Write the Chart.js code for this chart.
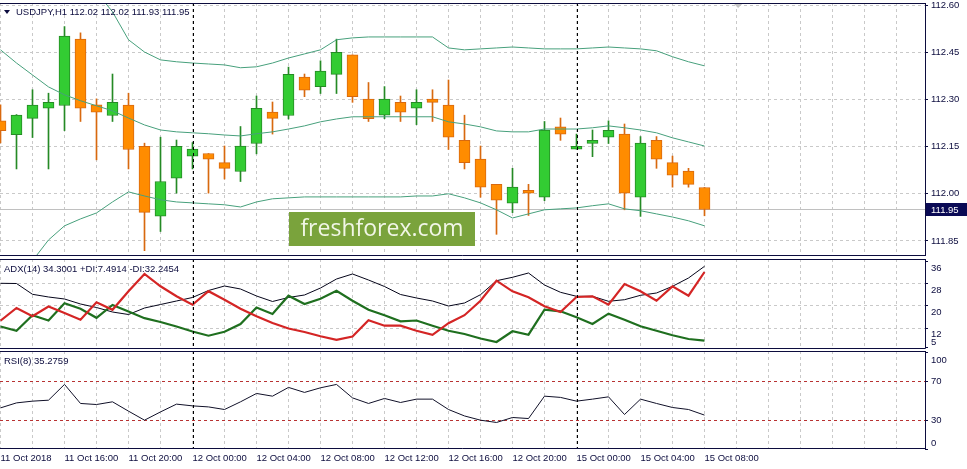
<!DOCTYPE html>
<html>
<head>
<meta charset="utf-8">
<script src="https://cdn.jsdelivr.net/npm/chart.js@4.4.1/dist/chart.umd.min.js"></script>
<style>
  html, body { margin: 0; padding: 0; background: #fff; }
  #wrap { position: relative; width: 967px; height: 469px; overflow: hidden; }
  #wrap canvas { position: absolute; left: 0; }
</style>
</head>
<body>
<div id="wrap">
  <canvas id="chart-main" width="967" height="258" style="top:0px"></canvas>
  <canvas id="chart-adx" width="967" height="92" style="top:258px"></canvas>
  <canvas id="chart-rsi" width="967" height="119" style="top:350px"></canvas>
</div>
<script>
// ---------- data (USDJPY H1, one entry per bar) ----------
const symbol = 'USDJPY,H1';
const timeLabels = ['11 Oct 2018', '11 Oct 16:00', '11 Oct 20:00', '12 Oct 00:00', '12 Oct 04:00', '12 Oct 08:00',
                    '12 Oct 12:00', '12 Oct 16:00', '12 Oct 20:00', '15 Oct 00:00', '15 Oct 04:00', '15 Oct 08:00'];
const labelEvery = 4;          // one time label every 4 bars
const separators = [12, 36];   // day breaks (bar index)

const opens  = [112.232,112.188,112.240,112.272,112.281,112.492,112.283,112.249,112.282,112.151,111.929,112.050,112.120,112.128,112.099,
                112.071,112.160,112.260,112.249,112.371,112.341,112.380,112.442,112.301,112.250,112.291,112.272,112.301,112.282,112.170,
                112.110,112.030,111.970,112.011,111.989,112.213,112.142,112.160,112.180,112.190,111.989,112.170,112.099,112.072,112.020];
const highs  = [112.283,112.252,112.331,112.320,112.532,112.512,112.302,112.381,112.320,112.161,112.180,112.171,112.163,112.128,112.152,
                112.214,112.311,112.292,112.403,112.381,112.423,112.492,112.442,112.354,112.341,112.311,112.331,112.331,112.362,112.250,
                112.152,112.030,112.081,112.030,112.230,112.241,112.190,112.203,112.232,112.222,112.182,112.182,112.120,112.081,112.020];
const lows   = [112.162,112.079,112.179,112.079,112.201,112.230,112.108,112.230,112.079,111.819,111.880,112.002,112.079,112.002,112.047,
                112.039,112.127,112.190,112.238,112.309,112.319,112.319,112.291,112.230,112.239,112.230,112.220,112.230,112.141,112.079,
                111.989,111.871,111.940,111.931,111.978,112.170,112.142,112.118,112.160,111.949,111.928,112.081,112.021,112.021,111.930];
const closes = [112.201,112.250,112.282,112.291,112.502,112.272,112.260,112.291,112.141,111.941,112.039,112.151,112.142,112.110,112.081,
                112.152,112.272,112.240,112.380,112.330,112.390,112.450,112.309,112.239,112.301,112.260,112.291,112.291,112.180,112.099,
                112.021,111.980,112.021,112.002,112.203,112.190,112.151,112.170,112.202,112.002,112.161,112.110,112.059,112.030,111.950];

// bollinger bands
const bbUpper  = [112.808,112.776,112.744,112.712,112.687,112.665,112.642,112.579,112.490,112.451,112.426,112.420,112.416,112.413,112.410,
                  112.401,112.404,112.416,112.432,112.445,112.458,112.490,112.496,112.499,112.499,112.499,112.499,112.499,112.464,112.458,
                  112.461,112.464,112.467,112.464,112.461,112.461,112.461,112.464,112.467,112.464,112.461,112.455,112.436,112.420,112.407];
const bbMiddle = [112.458,112.416,112.378,112.340,112.315,112.296,112.280,112.264,112.241,112.219,112.203,112.197,112.194,112.191,112.187,
                  112.184,112.191,112.197,112.206,112.216,112.229,112.238,112.245,112.245,112.245,112.245,112.245,112.245,112.229,112.222,
                  112.213,112.200,112.197,112.197,112.206,112.206,112.206,112.210,112.216,112.210,112.203,112.194,112.178,112.165,112.152];
const bbLower  = [111.669,111.729,111.787,111.853,111.898,111.920,111.939,111.974,112.006,111.993,111.981,111.974,111.971,111.968,111.965,
                  111.958,111.974,111.984,111.987,111.990,111.990,111.990,111.990,111.990,111.990,111.990,111.993,111.993,112.000,111.987,
                  111.971,111.949,111.923,111.936,111.949,111.952,111.955,111.962,111.968,111.952,111.946,111.936,111.926,111.914,111.898];

// ADX(14)
const adxMain = [28.17,28.10,24.21,23.24,22.52,20.72,19.45,17.83,16.93,19.27,20.53,21.80,23.06,25.58,27.20,
                 26.12,23.60,21.62,23.06,23.96,26.48,29.72,31.53,29.36,27.02,24.14,22.88,21.80,19.99,21.08,
                 24.07,29.11,30.34,31.89,27.56,24.93,23.49,23.49,21.69,22.26,23.85,24.68,27.09,30.08,34.3001];
const plusDI  = [12.61,11.06,16.64,14.77,21.00,19.02,15.74,20.35,18.01,15.60,14.23,12.61,10.81,9.29,10.70,
                 13.51,19.45,17.11,23.71,20.72,22.63,25.51,21.90,18.66,16.64,14.48,14.77,12.90,11.09,9.90,
                 8.28,7.02,10.88,9.65,18.66,18.08,15.92,13.51,17.22,15.06,12.68,11.09,9.44,8.10,7.4914];
const minusDI = [14.70,19.27,16.28,19.81,17.47,15.02,21.33,18.63,25.29,31.53,27.09,23.49,20.43,25.33,22.26,
                 19.02,16.28,13.87,11.89,10.63,9.08,7.81,9.00,14.88,12.90,12.90,11.09,9.62,13.80,16.68,
                 21.87,29.11,25.29,23.13,19.89,17.83,23.24,23.49,20.46,27.92,25.29,21.90,27.09,23.71,32.2454];

// RSI(8)
const rsi8 = [42.8,48.0,49.8,50.8,67.2,47.4,46.3,49.1,39.4,30.0,38.6,46.7,44.9,43.8,41.1,
              49.1,57.8,55.0,64.1,58.9,63.7,67.2,53.2,47.4,52.6,48.4,51.9,51.9,41.1,34.4,
              30.0,27.6,32.8,31.7,55.0,53.7,49.8,51.9,54.3,35.9,51.9,47.4,43.2,41.1,35.2759];

const priceTicks = [111.85, 112.00, 112.15, 112.30, 112.45, 112.60];
const adxTicks   = [5, 12, 20, 28, 36];
const adxGrid    = [12, 20, 28];
const rsiTicks   = [0, 30, 70, 100];
const rsiLevels  = [30, 70];

// ---------- look ----------
const NAVY = '#0c0c3e';
const GRID = '#c9c9c9';
const FONT = '"Liberation Sans", Arial, sans-serif';
const BULL = '#33cc33', BULL_EDGE = '#258a25';
const BEAR = '#ff8c00', BEAR_EDGE = '#d8690f';
const BAND = '#47a07c';

// x range: one bar = 16px, plot is 925px wide
const X_MIN = -1 / 32;
const X_MAX = X_MIN + 925 / 16;

const xy = arr => arr.map((v, i) => ({ x: i, y: v }));
const bull = closes.map((c, i) => c >= opens[i]);
const last = closes.length - 1;

// no label padding around the value axes, the plot keeps its exact box
const noPad = s => { s.paddingTop = 0; s.paddingBottom = 0; s.paddingLeft = 0; s.paddingRight = 0; };

/**
 * @description shared x axis, grid every 2 bars, labels only on the bottom panel
 */
function xAxis(showLabels) {
    return {
        type: 'linear', min: X_MIN, max: X_MAX, offset: false,
        grid: { color: GRID, offset: false, drawTicks: false },
        border: { display: false, dash: [3, 3] },
        afterBuildTicks: s => {
            const t = [];
            for (let v = 0; v <= X_MAX; v += 2) t.push({ value: v });
            s.ticks = t;
        },
        ticks: {
            display: showLabels, autoSkip: false, maxRotation: 0, minRotation: 0,
            align: 'start', padding: 4, color: NAVY, font: { family: FONT, size: 9.5 },
            callback: v => (v % labelEvery === 0 && v / labelEvery < timeLabels.length) ? timeLabels[v / labelEvery] : ''
        },
        afterFit: s => { s.height = showLabels ? 20 : 0; noPad(s); }
    };
}

/**
 * @description right hand value axis for the indicator windows (labels drawn by axisText)
 */
function subAxis(min, max, ticks, gridColor) {
    return {
        position: 'right', min: min, max: max,
        afterBuildTicks: s => { s.ticks = ticks.map(v => ({ value: v })); },
        grid: { color: gridColor, tickColor: NAVY, tickLength: 3 },
        border: { display: false, dash: [3, 3] },
        ticks: { display: false },
        afterFit: s => { s.width = 42; noPad(s); }
    };
}

// panel frame: top, bottom and right edge
const frame = {
    id: 'frame',
    afterDraw(chart) {
        const { ctx, chartArea: a } = chart;
        ctx.save();
        ctx.strokeStyle = NAVY;
        ctx.lineWidth = 1;
        ctx.beginPath();
        ctx.moveTo(0, Math.round(a.top) + 0.5); ctx.lineTo(a.right + 0.5, Math.round(a.top) + 0.5);
        ctx.moveTo(0, Math.round(a.bottom) - 0.5); ctx.lineTo(a.right + 0.5, Math.round(a.bottom) - 0.5);
        ctx.moveTo(a.right + 0.5, a.top); ctx.lineTo(a.right + 0.5, a.bottom);
        ctx.stroke();
        ctx.restore();
    }
};

// day separators (dashed black)
const daySeparators = {
    id: 'daySeparators',
    afterDatasetsDraw(chart) {
        const { ctx, chartArea: a, scales: { x } } = chart;
        ctx.save();
        ctx.strokeStyle = '#000';
        ctx.lineWidth = 1;
        ctx.setLineDash([3, 3]);
        separators.forEach(s => {
            const px = Math.round(x.getPixelForValue(s)) + 0.5;
            ctx.beginPath();
            ctx.moveTo(px, a.top);
            ctx.lineTo(px, a.bottom);
            ctx.stroke();
        });
        ctx.restore();
    }
};

// value labels of the indicator windows, kept inside the panel like the terminal does
function axisText(offset) {
    return {
        id: 'axisText',
        afterDraw(chart) {
            const { ctx, chartArea: a, scales: { y } } = chart;
            ctx.save();
            ctx.font = '9.5px ' + FONT;
            ctx.fillStyle = NAVY;
            ctx.textAlign = 'left';
            ctx.textBaseline = 'middle';
            y.ticks.forEach(t => {
                let py = y.getPixelForValue(t.value) + offset;
                py = Math.min(Math.max(py, a.top + 9), a.bottom - 6);
                ctx.fillText(String(t.value), a.right + 6, py);
            });
            ctx.restore();
        }
    };
}

// window caption, top-left
function caption(text) {
    return {
        id: 'caption',
        afterDraw(chart) {
            const ctx = chart.ctx;
            ctx.save();
            ctx.font = '9.5px ' + FONT;
            ctx.fillStyle = NAVY;
            ctx.textBaseline = 'middle';
            ctx.fillText(text, 4, chart.chartArea.top + 10);
            ctx.restore();
        }
    };
}

// main window extras: bid line, price tag, title, watermark, shift marker
const mainDecor = {
    id: 'mainDecor',
    beforeDatasetsDraw(chart) {
        const { ctx, chartArea: a, scales: { y } } = chart;
        const py = Math.round(y.getPixelForValue(closes[last])) + 0.5;
        ctx.save();
        ctx.strokeStyle = '#c0c0c0';
        ctx.lineWidth = 1;
        ctx.beginPath();
        ctx.moveTo(a.left, py);
        ctx.lineTo(a.right, py);
        ctx.stroke();
        ctx.restore();
    },
    afterDatasetsDraw(chart) {
        const ctx = chart.ctx;
        ctx.save();
        ctx.fillStyle = '#7aa33c';
        ctx.fillRect(289, 212, 186, 34);
        ctx.fillStyle = '#f1f6e6';
        ctx.font = '23px "Open Sans", ' + FONT;
        ctx.textAlign = 'center';
        ctx.textBaseline = 'middle';
        ctx.fillText('freshforex.com', 382, 229);
        ctx.restore();
    },
    afterDraw(chart) {
        const { ctx, chartArea: a, scales: { x, y } } = chart;
        ctx.save();
        // price tag
        const py = y.getPixelForValue(closes[last]);
        ctx.fillStyle = '#0a0a55';
        ctx.fillRect(a.right + 1, Math.round(py) - 6, 41, 13);
        ctx.fillStyle = '#fff';
        ctx.font = '9.5px ' + FONT;
        ctx.textBaseline = 'middle';
        ctx.fillText(closes[last].toFixed(2), a.right + 6, py + 0.5);
        // title
        ctx.fillStyle = NAVY;
        ctx.beginPath();
        ctx.moveTo(4, 10); ctx.lineTo(10, 10); ctx.lineTo(7, 14); ctx.closePath();
        ctx.fill();
        const title = [symbol, opens[last], highs[last], lows[last], closes[last]]
            .map(v => typeof v === 'number' ? v.toFixed(2) : v).join(' ');
        ctx.fillText(title, 16, 12);
        // chart shift marker
        const sx = x.getPixelForValue(46.1);
        ctx.fillStyle = '#c4c4c4';
        ctx.beginPath();
        ctx.moveTo(sx - 5, a.top); ctx.lineTo(sx + 5, a.top); ctx.lineTo(sx, a.top + 5); ctx.closePath();
        ctx.fill();
        ctx.restore();
    }
};

const base = {
    animation: false, responsive: false, devicePixelRatio: 1, events: [],
    plugins: { legend: { display: false }, tooltip: { enabled: false } }
};

// ---------- main price window ----------
new Chart(document.getElementById('chart-main'), {
    type: 'bar',
    data: {
        datasets: [
            { type: 'line', label: 'BB upper', data: xy(bbUpper), borderColor: BAND, borderWidth: 1, pointRadius: 0, order: 0 },
            { type: 'line', label: 'BB middle', data: xy(bbMiddle), borderColor: BAND, borderWidth: 1, pointRadius: 0, order: 0 },
            { type: 'line', label: 'BB lower', data: xy(bbLower), borderColor: BAND, borderWidth: 1, pointRadius: 0, order: 0 },
            {
                label: 'body', order: 1, grouped: false, barThickness: 11, minBarLength: 1,
                data: opens.map((o, i) => ({ x: i, y: [o, closes[i]] })),
                backgroundColor: bull.map(b => b ? BULL : BEAR),
                borderColor: bull.map(b => b ? BULL_EDGE : BEAR_EDGE),
                borderWidth: 1, borderSkipped: false
            },
            {
                label: 'wick', order: 2, grouped: false, barThickness: 1,
                data: lows.map((l, i) => ({ x: i, y: [l, highs[i]] })),
                backgroundColor: bull.map(b => b ? BULL_EDGE : BEAR_EDGE),
                borderWidth: 0
            }
        ]
    },
    options: {
        ...base,
        layout: { padding: { top: 3, bottom: 2, left: 0, right: 0 }, autoPadding: false },
        scales: {
            x: xAxis(false),
            y: {
                position: 'right', min: 111.802, max: 112.607, beginAtZero: false,
                afterBuildTicks: s => { s.ticks = priceTicks.map(v => ({ value: v })); },
                grid: { color: GRID, tickColor: NAVY, tickLength: 3 },
                border: { display: false, dash: [3, 3] },
                ticks: { color: NAVY, padding: 3, font: { family: FONT, size: 9.5 }, callback: v => v.toFixed(2) },
                afterFit: s => { s.width = 42; noPad(s); }
            }
        }
    },
    plugins: [mainDecor, daySeparators, frame]
});

// ---------- ADX window ----------
new Chart(document.getElementById('chart-adx'), {
    type: 'line',
    data: {
        datasets: [
            { label: '-DI', data: xy(minusDI), borderColor: '#d42525', borderWidth: 2.2, pointRadius: 0, order: 0 },
            { label: '+DI', data: xy(plusDI), borderColor: '#1f6f1f', borderWidth: 2.2, pointRadius: 0, order: 1 },
            { label: 'ADX', data: xy(adxMain), borderColor: '#05051a', borderWidth: 1, pointRadius: 0, order: 2 }
        ]
    },
    options: {
        ...base,
        layout: { padding: { top: 1, bottom: 1.5, left: 0, right: 0 }, autoPadding: false },
        scales: {
            x: xAxis(false),
            y: subAxis(4.68, 36.93, adxTicks, c => adxGrid.includes(c.tick && c.tick.value) ? GRID : 'rgba(0,0,0,0)')
        }
    },
    plugins: [daySeparators, frame, axisText(6.5),
        caption('ADX(14) ' + adxMain[last].toFixed(4) + ' +DI:' + plusDI[last].toFixed(4) + ' -DI:' + minusDI[last].toFixed(4))]
});

// ---------- RSI window ----------
new Chart(document.getElementById('chart-rsi'), {
    type: 'line',
    data: {
        datasets: [
            { label: 'RSI', data: xy(rsi8), borderColor: '#101028', borderWidth: 1, pointRadius: 0 }
        ]
    },
    options: {
        ...base,
        layout: { padding: { top: 1, bottom: 0, left: 0, right: 0 }, autoPadding: false },
        scales: {
            x: xAxis(true),
            y: subAxis(0, 102, rsiTicks, c => rsiLevels.includes(c.tick && c.tick.value) ? '#b83232' : 'rgba(0,0,0,0)')
        }
    },
    plugins: [daySeparators, frame, axisText(0), caption('RSI(8) ' + rsi8[last].toFixed(4))]
});
</script>
</body>
</html>
